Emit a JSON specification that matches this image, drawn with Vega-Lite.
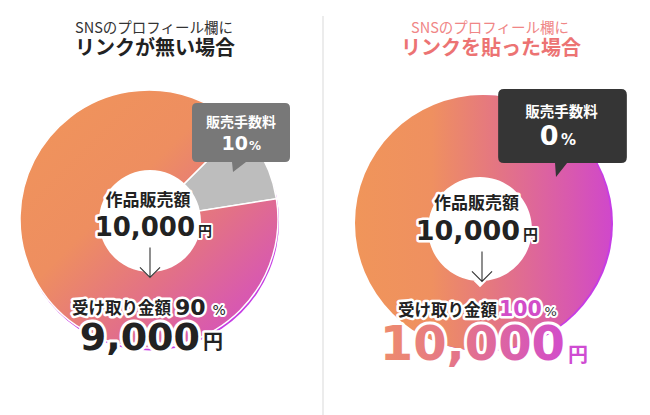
{
  "$schema": "https://vega.github.io/schema/vega-lite/v6.json",
  "background": "white",
  "padding": 0,
  "spacing": 0,
  "config": {"view": {"stroke": null}},
  "datasets": {
    "scenarios": [
      {"scenario": "no_link", "heading": "SNSのプロフィール欄に", "subheading": "リンクが無い場合", "fee_label": "販売手数料", "fee_pct": 10, "sales_label": "作品販売額", "sales": 10000, "received_label": "受け取り金額", "received_pct": 90, "received": 9000, "unit": "円", "pct_unit": "%"},
      {"scenario": "link", "heading": "SNSのプロフィール欄に", "subheading": "リンクを貼った場合", "fee_label": "販売手数料", "fee_pct": 0, "sales_label": "作品販売額", "sales": 10000, "received_label": "受け取り金額", "received_pct": 100, "received": 10000, "unit": "円", "pct_unit": "%"}
    ],
    "shares": [
      {"scenario": "no_link", "part": "販売手数料", "order": 1, "pct": 10},
      {"scenario": "no_link", "part": "受け取り金額", "order": 2, "pct": 90},
      {"scenario": "link", "part": "販売手数料", "order": 1, "pct": 0},
      {"scenario": "link", "part": "受け取り金額", "order": 2, "pct": 100}
    ]
  },
  "hconcat": [
    {
      "width": 325,
      "height": 415,
      "data": {"name": "scenarios"},
      "transform": [{"filter": "datum.scenario === 'no_link'"}],
      "layer": [
        {"mark": {"type": "rule", "color": "#E6E6E6", "strokeWidth": 1.5}, "encoding": {"x": {"value": 323}, "y": {"value": 16}, "y2": {"value": 415}}},
        {"mark": {"type": "arc", "outerRadius": 129, "theta": 0, "theta2": 6.2832, "fill": "#C63CE4", "xOffset": -12.5, "yOffset": 14}, "encoding": {}},
        {
          "data": {"name": "shares"},
          "transform": [{"filter": "datum.scenario === 'no_link'"}],
          "mark": {"type": "arc", "outerRadius": 129, "xOffset": -13.5, "yOffset": 11.5, "stroke": "white", "strokeWidth": 1.5},
          "encoding": {
            "theta": {"field": "pct", "type": "quantitative", "stack": true, "scale": {"domain": [0, 100], "range": [0.785, 7.0682]}},
            "order": {"field": "order"},
            "fill": {
              "condition": {"test": "datum.part === '販売手数料'", "value": "#BDBDBD"},
              "value": {"gradient": "linear", "x1": 0, "y1": 0, "x2": 1, "y2": 1, "stops": [
                {"offset": 0, "color": "#F0955A"}, {"offset": 0.4, "color": "#EE8E60"}, {"offset": 0.65, "color": "#E27088"}, {"offset": 0.9, "color": "#D552BC"}, {"offset": 1, "color": "#CF45CF"}]}
            }
          }
        },
        {"mark": {"type": "point", "shape": "M0,-1C0.5523,-1,1,-0.5523,1,0C1,0.5523,0.5523,1,0,1C-0.5523,1,-1,0.5523,-1,0C-1,-0.5523,-0.5523,-1,0,-1ZM0.15,0.97L0,1.12L-0.15,0.97Z", "size": 10404, "filled": true, "fill": "white", "opacity": 1, "strokeWidth": 0, "xOffset": -12.5, "yOffset": 13.5}, "encoding": {}},
        {"mark": {"type": "point", "shape": "M-0.88,-0.59L0.88,-0.59Q0.98,-0.59,0.98,-0.49L0.98,0.49Q0.98,0.59,0.88,0.59L0.1,0.59L-0.16,0.79L-0.18,0.59L-0.88,0.59Q-0.98,0.59,-0.98,0.49L-0.98,-0.49Q-0.98,-0.59,-0.88,-0.59Z", "size": 10000, "filled": true, "fill": "#787878", "opacity": 1, "strokeWidth": 0, "xOffset": 78.5, "yOffset": -75}, "encoding": {}},
        {"mark": {"type": "text", "font": "Noto Sans CJK JP", "fontWeight": "bold", "fontSize": 14, "fill": "white", "align": "center", "baseline": "middle", "dx": 78.5, "dy": -84.5}, "encoding": {"text": {"field": "fee_label"}}},
        {"mark": {"type": "text", "font": "DejaVu Sans", "fontWeight": "bold", "fontSize": 19, "fill": "white", "align": "right", "baseline": "alphabetic", "dx": 85.5, "dy": -57.5}, "encoding": {"text": {"field": "fee_pct", "type": "quantitative", "format": "d"}}},
        {"mark": {"type": "text", "font": "DejaVu Sans", "fontWeight": "bold", "fontSize": 12, "fill": "white", "align": "left", "baseline": "alphabetic", "dx": 86.5, "dy": -57.5}, "encoding": {"text": {"field": "pct_unit"}}},
        {"mark": {"type": "text", "font": "Noto Sans CJK JP", "fontSize": 14.5, "fill": "#333333", "align": "center", "baseline": "middle", "dx": -8.5, "dy": -179}, "encoding": {"text": {"field": "heading"}}},
        {"mark": {"type": "text", "font": "Noto Sans CJK JP", "fontWeight": "bold", "fontSize": 20, "fill": "#222222", "align": "center", "baseline": "middle", "dx": -7.5, "dy": -158.5}, "encoding": {"text": {"field": "subheading"}}},

        {"mark": {"type": "text", "font": "Noto Sans CJK JP", "fontWeight": "bold", "fontSize": 17, "fill": "white", "stroke": "white", "strokeWidth": 5, "strokeJoin": "round", "align": "center", "baseline": "middle", "dx": -14.5, "dy": -6.5}, "encoding": {"text": {"field": "sales_label"}}},
        {"mark": {"type": "text", "font": "DejaVu Sans", "fontWeight": "bold", "fontSize": 26, "fill": "white", "stroke": "white", "strokeWidth": 5, "strokeJoin": "round", "align": "right", "baseline": "alphabetic", "dx": 32.5, "dy": 28.5}, "encoding": {"text": {"field": "sales", "type": "quantitative", "format": ",d"}}},
        {"mark": {"type": "text", "font": "Noto Sans CJK JP", "fontWeight": "bold", "fontSize": 14, "fill": "white", "stroke": "white", "strokeWidth": 4, "strokeJoin": "round", "align": "left", "baseline": "alphabetic", "dx": 35.5, "dy": 28.5}, "encoding": {"text": {"field": "unit"}}},
        {"mark": {"type": "text", "font": "Noto Sans CJK JP", "fontWeight": "bold", "fontSize": 16.5, "fill": "white", "stroke": "white", "strokeWidth": 5, "strokeJoin": "round", "align": "center", "baseline": "middle", "dx": -41, "dy": 101.5}, "encoding": {"text": {"field": "received_label"}}},
        {"mark": {"type": "text", "font": "DejaVu Sans", "fontWeight": "bold", "fontSize": 22, "fill": "white", "stroke": "white", "strokeWidth": 5, "strokeJoin": "round", "align": "left", "baseline": "alphabetic", "dx": 12.5, "dy": 107}, "encoding": {"text": {"field": "received_pct", "type": "quantitative", "format": "d"}}},
        {"mark": {"type": "text", "font": "DejaVu Sans", "fontSize": 14, "fill": "white", "stroke": "white", "strokeWidth": 4, "strokeJoin": "round", "align": "left", "baseline": "alphabetic", "dx": 50, "dy": 107}, "encoding": {"text": {"field": "pct_unit"}}},
        {"mark": {"type": "text", "font": "DejaVu Sans", "fontWeight": "bold", "fontSize": 38, "fill": "white", "stroke": "white", "strokeWidth": 6, "strokeJoin": "round", "align": "right", "baseline": "alphabetic", "dx": 37.5, "dy": 142.5}, "encoding": {"text": {"field": "received", "type": "quantitative", "format": ",d"}}},
        {"mark": {"type": "text", "font": "Noto Sans CJK JP", "fontWeight": "bold", "fontSize": 20, "fill": "white", "stroke": "white", "strokeWidth": 5, "strokeJoin": "round", "align": "left", "baseline": "alphabetic", "dx": 40.5, "dy": 141.5}, "encoding": {"text": {"field": "unit"}}},

        {"mark": {"type": "text", "font": "Noto Sans CJK JP", "fontWeight": "bold", "fontSize": 17, "fill": "#222222", "align": "center", "baseline": "middle", "dx": -14.5, "dy": -6.5}, "encoding": {"text": {"field": "sales_label"}}},
        {"mark": {"type": "text", "font": "DejaVu Sans", "fontWeight": "bold", "fontSize": 26, "fill": "#222222", "align": "right", "baseline": "alphabetic", "dx": 32.5, "dy": 28.5}, "encoding": {"text": {"field": "sales", "type": "quantitative", "format": ",d"}}},
        {"mark": {"type": "text", "font": "Noto Sans CJK JP", "fontWeight": "bold", "fontSize": 14, "fill": "#222222", "align": "left", "baseline": "alphabetic", "dx": 35.5, "dy": 28.5}, "encoding": {"text": {"field": "unit"}}},
        {"mark": {"type": "point", "shape": "M0,-1L0,1M-0.67,0.33L0,1L0.67,0.33", "size": 900, "filled": false, "fill": null, "stroke": "#333333", "strokeWidth": 1.1, "opacity": 1, "xOffset": -12.5, "yOffset": 55}, "encoding": {}},
        {"mark": {"type": "text", "font": "Noto Sans CJK JP", "fontWeight": "bold", "fontSize": 16.5, "fill": "#222222", "align": "center", "baseline": "middle", "dx": -41, "dy": 101.5}, "encoding": {"text": {"field": "received_label"}}},
        {"mark": {"type": "text", "font": "DejaVu Sans", "fontWeight": "bold", "fontSize": 22, "fill": "#222222", "align": "left", "baseline": "alphabetic", "dx": 12.5, "dy": 107}, "encoding": {"text": {"field": "received_pct", "type": "quantitative", "format": "d"}}},
        {"mark": {"type": "text", "font": "DejaVu Sans", "fontSize": 14, "fill": "#222222", "align": "left", "baseline": "alphabetic", "dx": 50, "dy": 107}, "encoding": {"text": {"field": "pct_unit"}}},
        {"mark": {"type": "text", "font": "DejaVu Sans", "fontWeight": "bold", "fontSize": 38, "fill": "#222222", "align": "right", "baseline": "alphabetic", "dx": 37.5, "dy": 142.5}, "encoding": {"text": {"field": "received", "type": "quantitative", "format": ",d"}}},
        {"mark": {"type": "text", "font": "Noto Sans CJK JP", "fontWeight": "bold", "fontSize": 20, "fill": "#222222", "align": "left", "baseline": "alphabetic", "dx": 40.5, "dy": 141.5}, "encoding": {"text": {"field": "unit"}}}
      ]
    },
    {
      "width": 325,
      "height": 415,
      "data": {"name": "scenarios"},
      "transform": [{"filter": "datum.scenario === 'link'"}],
      "layer": [
        {"mark": {"type": "arc", "outerRadius": 128, "theta": 0, "theta2": 6.2832, "fill": "#C63CE4", "xOffset": -2.5, "yOffset": 16}, "encoding": {}},
        {
          "data": {"name": "shares"},
          "transform": [{"filter": "datum.scenario === 'link'"}],
          "mark": {"type": "arc", "outerRadius": 128, "xOffset": -4.5, "yOffset": 15.5},
          "encoding": {
            "theta": {"field": "pct", "type": "quantitative", "stack": true, "scale": {"domain": [0, 100], "range": [0, 6.2832]}},
            "order": {"field": "order"},
            "fill": {
              "condition": {"test": "datum.part === '販売手数料'", "value": "#BDBDBD"},
              "value": {"gradient": "linear", "x1": 0, "y1": 0, "x2": 1, "y2": 0, "stops": [
                {"offset": 0, "color": "#F0955A"}, {"offset": 0.3, "color": "#EF9060"}, {"offset": 0.55, "color": "#E47682"}, {"offset": 0.85, "color": "#D858B0"}, {"offset": 1, "color": "#D048CA"}]}
            }
          }
        },
        {"mark": {"type": "point", "shape": "M0,-1C0.5523,-1,1,-0.5523,1,0C1,0.5523,0.5523,1,0,1C-0.5523,1,-1,0.5523,-1,0C-1,-0.5523,-0.5523,-1,0,-1ZM0.15,0.97L0,1.12L-0.15,0.97Z", "size": 10816, "filled": true, "fill": "white", "opacity": 1, "strokeWidth": 0, "xOffset": -7.5, "yOffset": 21.5}, "encoding": {}},
        {"mark": {"type": "point", "shape": "M-0.9,-0.57L0.9,-0.57Q0.99,-0.57,0.99,-0.48L0.99,0.48Q0.99,0.57,0.9,0.57L0.07,0.57L-0.1,0.785L-0.115,0.57L-0.9,0.57Q-0.99,0.57,-0.99,0.48L-0.99,-0.48Q-0.99,-0.57,-0.9,-0.57Z", "size": 16900, "filled": true, "fill": "#353535", "opacity": 1, "strokeWidth": 0, "xOffset": 75, "yOffset": -81.5}, "encoding": {}},
        {"mark": {"type": "text", "font": "Noto Sans CJK JP", "fontWeight": "bold", "fontSize": 14.5, "fill": "white", "align": "center", "baseline": "middle", "dx": 74, "dy": -94.5}, "encoding": {"text": {"field": "fee_label"}}},
        {"mark": {"type": "text", "font": "DejaVu Sans", "fontWeight": "bold", "fontSize": 27, "fill": "white", "align": "right", "baseline": "alphabetic", "dx": 71, "dy": -62.5}, "encoding": {"text": {"field": "fee_pct", "type": "quantitative", "format": "d"}}},
        {"mark": {"type": "text", "font": "DejaVu Sans", "fontWeight": "bold", "fontSize": 15, "fill": "white", "align": "left", "baseline": "alphabetic", "dx": 73.5, "dy": -62.5}, "encoding": {"text": {"field": "pct_unit"}}},
        {"mark": {"type": "text", "font": "Noto Sans CJK JP", "fontSize": 14.5, "fill": "#F08686", "align": "center", "baseline": "middle", "dx": 2.5, "dy": -179}, "encoding": {"text": {"field": "heading"}}},
        {"mark": {"type": "text", "font": "Noto Sans CJK JP", "fontWeight": "bold", "fontSize": 20, "fill": "#EC7373", "align": "center", "baseline": "middle", "dx": 3.5, "dy": -158.5}, "encoding": {"text": {"field": "subheading"}}},

        {"mark": {"type": "text", "font": "Noto Sans CJK JP", "fontWeight": "bold", "fontSize": 17, "fill": "white", "stroke": "white", "strokeWidth": 5, "strokeJoin": "round", "align": "center", "baseline": "middle", "dx": -11, "dy": -3.5}, "encoding": {"text": {"field": "sales_label"}}},
        {"mark": {"type": "text", "font": "DejaVu Sans", "fontWeight": "bold", "fontSize": 27, "fill": "white", "stroke": "white", "strokeWidth": 5, "strokeJoin": "round", "align": "right", "baseline": "alphabetic", "dx": 32.5, "dy": 32.5}, "encoding": {"text": {"field": "sales", "type": "quantitative", "format": ",d"}}},
        {"mark": {"type": "text", "font": "Noto Sans CJK JP", "fontWeight": "bold", "fontSize": 15, "fill": "white", "stroke": "white", "strokeWidth": 4, "strokeJoin": "round", "align": "left", "baseline": "alphabetic", "dx": 35.5, "dy": 32.5}, "encoding": {"text": {"field": "unit"}}},
        {"mark": {"type": "text", "font": "Noto Sans CJK JP", "fontWeight": "bold", "fontSize": 16.5, "fill": "white", "stroke": "white", "strokeWidth": 5, "strokeJoin": "round", "align": "center", "baseline": "middle", "dx": -40, "dy": 103.5}, "encoding": {"text": {"field": "received_label"}}},
        {"mark": {"type": "text", "font": "DejaVu Sans", "fontWeight": "bold", "fontSize": 20.5, "fill": "white", "stroke": "white", "strokeWidth": 5, "strokeJoin": "round", "align": "left", "baseline": "alphabetic", "dx": 11.5, "dy": 108.5}, "encoding": {"text": {"field": "received_pct", "type": "quantitative", "format": "d"}}},
        {"mark": {"type": "text", "font": "DejaVu Sans", "fontSize": 13, "fill": "white", "stroke": "white", "strokeWidth": 4, "strokeJoin": "round", "align": "left", "baseline": "alphabetic", "dx": 57, "dy": 108.5}, "encoding": {"text": {"field": "pct_unit"}}},
        {"mark": {"type": "text", "font": "DejaVu Sans", "fontWeight": "bold", "fontSize": 48, "fill": "white", "stroke": "white", "strokeWidth": 6, "strokeJoin": "round", "align": "right", "baseline": "alphabetic", "dx": 77.5, "dy": 152.5}, "encoding": {"text": {"field": "received", "type": "quantitative", "format": ",d"}}},
        {"mark": {"type": "text", "font": "Noto Sans CJK JP", "fontWeight": "bold", "fontSize": 20, "fill": "white", "stroke": "white", "strokeWidth": 5, "strokeJoin": "round", "align": "left", "baseline": "alphabetic", "dx": 80.5, "dy": 154.5}, "encoding": {"text": {"field": "unit"}}},

        {"mark": {"type": "text", "font": "Noto Sans CJK JP", "fontWeight": "bold", "fontSize": 17, "fill": "#222222", "align": "center", "baseline": "middle", "dx": -11, "dy": -3.5}, "encoding": {"text": {"field": "sales_label"}}},
        {"mark": {"type": "text", "font": "DejaVu Sans", "fontWeight": "bold", "fontSize": 27, "fill": "#222222", "align": "right", "baseline": "alphabetic", "dx": 32.5, "dy": 32.5}, "encoding": {"text": {"field": "sales", "type": "quantitative", "format": ",d"}}},
        {"mark": {"type": "text", "font": "Noto Sans CJK JP", "fontWeight": "bold", "fontSize": 15, "fill": "#222222", "align": "left", "baseline": "alphabetic", "dx": 35.5, "dy": 32.5}, "encoding": {"text": {"field": "unit"}}},
        {"mark": {"type": "point", "shape": "M0,-1L0,1M-0.67,0.33L0,1L0.67,0.33", "size": 900, "filled": false, "fill": null, "stroke": "#333333", "strokeWidth": 1.1, "opacity": 1, "xOffset": -5.5, "yOffset": 59}, "encoding": {}},
        {"mark": {"type": "text", "font": "Noto Sans CJK JP", "fontWeight": "bold", "fontSize": 16.5, "fill": "#222222", "align": "center", "baseline": "middle", "dx": -40, "dy": 103.5}, "encoding": {"text": {"field": "received_label"}}},
        {"mark": {"type": "text", "font": "DejaVu Sans", "fontWeight": "bold", "fontSize": 20.5, "fill": "#D24DC8", "align": "left", "baseline": "alphabetic", "dx": 11.5, "dy": 108.5}, "encoding": {"text": {"field": "received_pct", "type": "quantitative", "format": "d"}}},
        {"mark": {"type": "text", "font": "DejaVu Sans", "fontSize": 13, "fill": "#333333", "align": "left", "baseline": "alphabetic", "dx": 57, "dy": 108.5}, "encoding": {"text": {"field": "pct_unit"}}},
        {"mark": {"type": "text", "font": "DejaVu Sans", "fontWeight": "bold", "fontSize": 48, "align": "right", "baseline": "alphabetic", "dx": 77.5, "dy": 152.5, "fill": {"gradient": "linear", "x1": 0, "y1": 0, "x2": 1, "y2": 0, "stops": [{"offset": 0, "color": "#EE8C6C"}, {"offset": 0.5, "color": "#E27090"}, {"offset": 1, "color": "#D24CCB"}]}}, "encoding": {"text": {"field": "received", "type": "quantitative", "format": ",d"}}},
        {"mark": {"type": "text", "font": "Noto Sans CJK JP", "fontWeight": "bold", "fontSize": 20, "fill": "#CF4CD2", "align": "left", "baseline": "alphabetic", "dx": 80.5, "dy": 154.5}, "encoding": {"text": {"field": "unit"}}}
      ]
    }
  ]
}
